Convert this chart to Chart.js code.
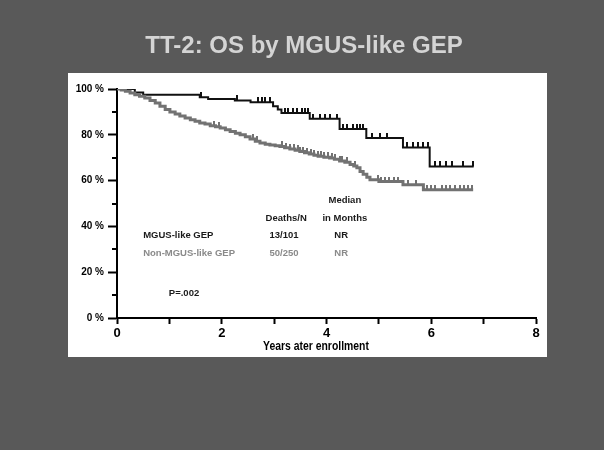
<!DOCTYPE html>
<html>
<head>
<meta charset="utf-8">
<script src="https://cdn.jsdelivr.net/npm/chart.js@4"></script>
<style>
  html, body { margin: 0; padding: 0; background: #595959; }
  #wrap { width: 604px; height: 450px; }
</style>
</head>
<body>
<div id="wrap"><canvas id="osChart" width="604" height="450"></canvas></div>
<script>
// Kaplan-Meier steps: years, % surviving
const mgusTimes = [0, 0.34, 0.5, 1.58, 1.74, 2.25, 2.55, 2.98, 3.07, 3.14, 3.68, 4.25, 4.76, 5.46, 5.97, 6.81];
const mgusSurv  = [100, 98.5, 97.5, 96.4, 95.6, 95.0, 94.2, 92.5, 91.0, 89.5, 87.0, 82.5, 78.6, 74.5, 66.2, 66.2];
const mgusCensored = [1.6, 2.3, 2.69, 2.77, 2.83, 2.92, 3.2, 3.26, 3.36, 3.44, 3.53, 3.59, 3.65,
  3.74, 3.87, 3.97, 4.06, 4.2, 4.31, 4.4, 4.5, 4.58, 4.64, 4.69, 4.86, 5.02, 5.15,
  5.53, 5.65, 5.75, 5.85, 5.94, 6.07, 6.16, 6.29, 6.39, 6.61, 6.8];

const nonTimes = [0, 0.08, 0.16, 0.25, 0.34, 0.43, 0.53, 0.63, 0.73, 0.82, 0.92, 1.01, 1.11, 1.2, 1.3, 1.4,
  1.49, 1.58, 1.68, 1.78, 1.88, 1.97, 2.07, 2.16, 2.26, 2.35, 2.45, 2.54, 2.64, 2.73, 2.83, 2.92, 3.02,
  3.11, 3.2, 3.3, 3.4, 3.49, 3.58, 3.67, 3.76, 3.84, 3.95, 4.06, 4.15, 4.25, 4.35, 4.45, 4.52, 4.58,
  4.64, 4.7, 4.77, 4.83, 5.0, 5.46, 5.85, 6.8];
const nonSurv = [100, 99.6, 99.0, 98.3, 97.5, 96.8, 96.1, 95.0, 93.9, 92.5, 91.0, 90.0, 89.1, 88.2, 87.3, 86.6,
  85.9, 85.2, 84.7, 84.0, 83.5, 83.0, 82.2, 81.4, 80.7, 80.0, 79.1, 78.2, 77.2, 76.4, 75.9, 75.5, 75.2,
  74.9, 74.3, 73.8, 73.2, 72.7, 72.2, 71.6, 71.1, 70.6, 70.2, 69.9, 69.3, 68.6, 68.0, 67.0, 66.4, 65.6,
  64.0, 62.8, 61.5, 60.4, 59.6, 58.2, 56.0, 56.0];
const nonCensored = [1.85, 1.95, 2.6, 2.68, 3.15, 3.22, 3.3, 3.37, 3.45, 3.5, 3.56, 3.63, 3.7, 3.76, 3.84, 3.9,
  3.96, 4.02, 4.1, 4.16, 4.25, 4.3, 4.4, 4.55, 4.98, 5.05, 5.12, 5.2, 5.28, 5.36, 5.55, 5.7,
  5.92, 6.0, 6.08, 6.2, 6.28, 6.35, 6.45, 6.55, 6.62, 6.7, 6.78];

const yTicks = [0, 20, 40, 60, 80, 100];
const yMinorTicks = [10, 30, 50, 70, 90];

const titleText = 'TT-2: OS by MGUS-like GEP';
const xTitleText = 'Years ater enrollment';
const tableRows = [
  { label: 'MGUS-like GEP', deaths: '13/101', median: 'NR', color: '#1a1a1a' },
  { label: 'Non-MGUS-like GEP', deaths: '50/250', median: 'NR', color: '#8a8a8a' }
];
const pValue = 'P=.002';

function stepPoints(times, surv) {
  return times.map((t, i) => ({ x: t, y: surv[i] }));
}
function survAt(times, surv, t) {
  let v = surv[0];
  for (let i = 0; i < times.length; i++) if (times[i] <= t) v = surv[i];
  return v;
}
function censorPoints(cens, times, surv) {
  return cens.map(t => ({ x: t, y: survAt(times, surv, t) }));
}
function tickMark(color) {
  const c = document.createElement('canvas');
  c.width = 2; c.height = 10;
  const g = c.getContext('2d');
  g.fillStyle = color;
  g.fillRect(0, 0, 2, 5);
  return c;
}

const background = {
  id: 'background',
  beforeDraw(chart) {
    const ctx = chart.ctx;
    ctx.save();
    ctx.fillStyle = '#595959';
    ctx.fillRect(0, 0, chart.width, chart.height);
    ctx.fillStyle = '#ffffff';
    ctx.fillRect(68, 73, 479, 284);
    ctx.fillStyle = '#d4d4d4';
    ctx.font = 'bold 24px Arial';
    ctx.textAlign = 'center';
    ctx.textBaseline = 'middle';
    ctx.fillText(titleText, 304, 46);
    ctx.restore();
  }
};

const annotations = {
  id: 'annotations',
  afterDraw(chart) {
    const ctx = chart.ctx;
    const xs = chart.scales.x, ys = chart.scales.y;
    const area = chart.chartArea;
    ctx.save();
    // minor y ticks
    ctx.strokeStyle = '#000';
    ctx.lineWidth = 2;
    yMinorTicks.forEach(v => {
      const py = Math.round(ys.getPixelForValue(v));
      ctx.beginPath();
      ctx.moveTo(area.left - 5, py);
      ctx.lineTo(area.left, py);
      ctx.stroke();
    });
    // x axis title, condensed
    ctx.save();
    ctx.translate(316, 346);
    ctx.scale(0.8, 1);
    ctx.font = 'bold 13px Arial';
    ctx.fillStyle = '#000';
    ctx.textAlign = 'center';
    ctx.textBaseline = 'middle';
    ctx.fillText(xTitleText, 0, 0);
    ctx.restore();

    ctx.textBaseline = 'middle';
    ctx.font = 'bold 9.5px Arial';
    ctx.fillStyle = '#1a1a1a';
    ctx.textAlign = 'center';
    ctx.fillText('Median', xs.getPixelForValue(4.35), ys.getPixelForValue(51.2));
    ctx.fillText('Deaths/N', xs.getPixelForValue(3.23), ys.getPixelForValue(43.4));
    ctx.fillText('in Months', xs.getPixelForValue(4.35), ys.getPixelForValue(43.4));
    tableRows.forEach((r, i) => {
      const py = ys.getPixelForValue(35.9 - i * 7.8);
      ctx.fillStyle = r.color;
      ctx.textAlign = 'left';
      ctx.fillText(r.label, xs.getPixelForValue(0.5), py);
      ctx.textAlign = 'center';
      ctx.fillText(r.deaths, xs.getPixelForValue(3.19), py);
      ctx.fillText(r.median, xs.getPixelForValue(4.28), py);
    });
    ctx.fillStyle = '#1a1a1a';
    ctx.textAlign = 'left';
    ctx.fillText(pValue, xs.getPixelForValue(0.99), ys.getPixelForValue(10.6));
    ctx.restore();
  }
};

new Chart(document.getElementById('osChart').getContext('2d'), {
  type: 'line',
  data: {
    datasets: [
      {
        label: 'Non-MGUS-like GEP',
        data: stepPoints(nonTimes, nonSurv),
        stepped: true,
        borderColor: '#727272',
        borderWidth: 3,
        pointRadius: 0,
        fill: false
      },
      {
        label: 'MGUS-like GEP',
        data: stepPoints(mgusTimes, mgusSurv),
        stepped: true,
        borderColor: '#111111',
        borderWidth: 2,
        pointRadius: 0,
        fill: false
      },
      {
        label: 'Non-MGUS censored',
        data: censorPoints(nonCensored, nonTimes, nonSurv),
        showLine: false,
        pointStyle: tickMark('#727272'),
        pointRadius: 3
      },
      {
        label: 'MGUS censored',
        data: censorPoints(mgusCensored, mgusTimes, mgusSurv),
        showLine: false,
        pointStyle: tickMark('#111111'),
        pointRadius: 3
      }
    ]
  },
  options: {
    responsive: false,
    animation: false,
    layout: { padding: { left: 0, right: 68, top: 89, bottom: 110 } },
    plugins: {
      legend: { display: false },
      tooltip: { enabled: false },
      title: { display: false }
    },
    scales: {
      x: {
        type: 'linear',
        min: 0, max: 8,
        afterFit(scale) { scale.height = 22; },
        ticks: {
          stepSize: 1,
          color: '#000',
          padding: 2,
          maxRotation: 0,
          font: { family: 'Arial', size: 13, weight: 'bold' },
          callback: v => (v % 2 === 0 ? v : '')
        },
        grid: { drawOnChartArea: false, tickLength: 6, tickWidth: 2, tickColor: '#000' },
        border: { color: '#000', width: 2 }
      },
      y: {
        min: 0, max: 100,
        afterFit(scale) { scale.width = 117; },
        afterBuildTicks(scale) { scale.ticks = yTicks.map(v => ({ value: v })); },
        ticks: {
          color: '#000',
          padding: 4,
          font: { family: 'Arial', size: 10, weight: 'bold' },
          callback: v => v + ' %'
        },
        grid: { drawOnChartArea: false, tickLength: 9, tickWidth: 2, tickColor: '#000' },
        border: { color: '#000', width: 2 }
      }
    }
  },
  plugins: [background, annotations]
});
</script>
</body>
</html>
